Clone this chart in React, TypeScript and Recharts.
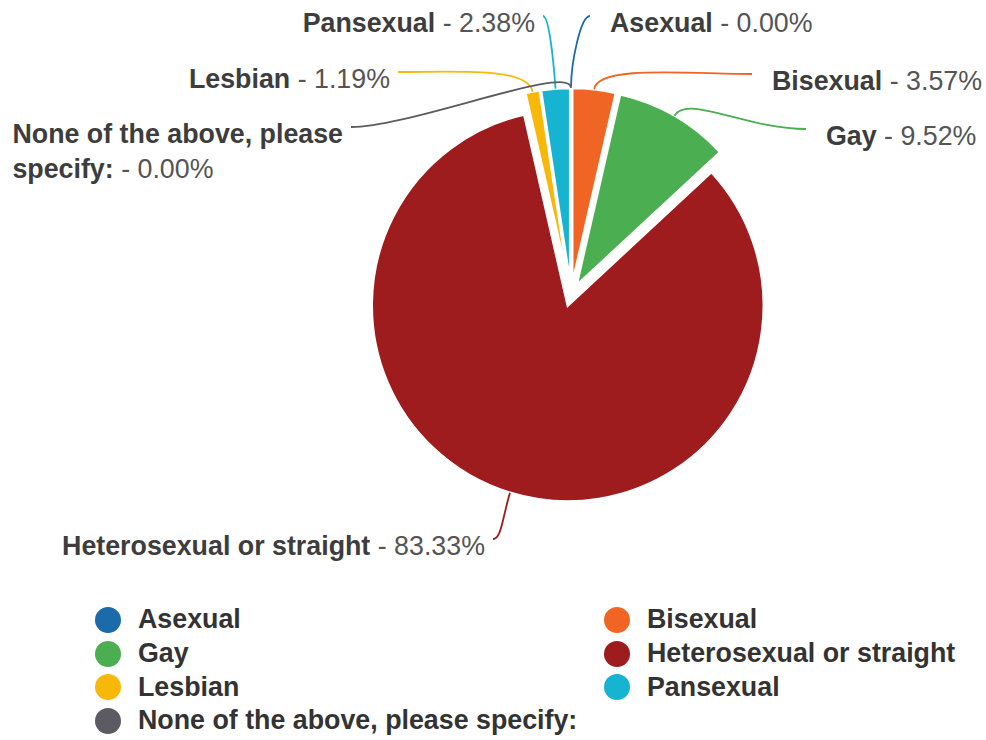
import React from "react";
import { PieChart, Pie, Cell, Sector, Legend } from "recharts";

const categories = [
    "Asexual",
    "Bisexual",
    "Gay",
    "Heterosexual or straight",
    "Lesbian",
    "Pansexual",
    "None of the above, please specify:",
];
const shares = [0, 3.57, 9.52, 83.33, 1.19, 2.38, 0];
const colors = ["#1b6aa9", "#f06523", "#4bae50", "#9e1b1e", "#f8b80a", "#17b4d2", "#5c5a62"];

// where each data label sits, relative to the pie centre
const labelSide = ["right", "right", "right", "left", "left", "left", "left"];
const labelDx = [39, 201, 255, -86, -181, -36, -228];
const labelDy = [-273, -215, -160, 250, -217, -273, -162];

const FONT = "'Liberation Sans', Arial, Helvetica, sans-serif";
const SIZE = 26.8;
const SLICE_OFFSET = 11;
const LINE_H = 35;
const RAD = Math.PI / 180;

const pieData = categories.map((name, i) => ({ name, value: shares[i] }));

let ctx: CanvasRenderingContext2D | null = null;
function textWidth(s: string, bold: boolean) {
    if (!ctx) ctx = document.createElement("canvas").getContext("2d");
    if (!ctx) return s.length * SIZE * 0.55;
    ctx.font = `${bold ? "bold " : ""}${SIZE}px ${FONT}`;
    return ctx.measureText(s).width;
}

type Line = { bold: string; normal: string };

// greedy word wrap of "name - xx.xx%" into the room left of / right of the anchor
function wrapLabel(name: string, suffix: string, maxWidth: number): Line[] {
    const sufW = textWidth(suffix, false);
    if (textWidth(name, true) + sufW <= maxWidth) return [{ bold: name, normal: suffix }];
    const words = name.split(" ");
    const lines: Line[] = [];
    let cur = "";
    words.forEach((w) => {
        const next = cur ? cur + " " + w : w;
        if (cur && textWidth(next, true) > maxWidth) {
            lines.push({ bold: cur, normal: "" });
            cur = w;
        } else {
            cur = next;
        }
    });
    if (textWidth(cur, true) + sufW <= maxWidth) {
        lines.push({ bold: cur, normal: suffix });
    } else {
        lines.push({ bold: cur, normal: "" });
        lines.push({ bold: "", normal: suffix.trim() });
    }
    return lines;
}

const renderSlice = (props: any) => {
    const { cx, cy, startAngle, endAngle, outerRadius, index } = props;
    const mid = (startAngle + endAngle) / 2;
    const ux = Math.cos(-mid * RAD);
    const uy = Math.sin(-mid * RAD);
    const color = colors[index];

    // connector from the sliced arc to the label
    const px = cx + ux * (outerRadius + SLICE_OFFSET);
    const py = cy + uy * (outerRadius + SLICE_OFFSET);
    const right = labelSide[index] === "right";
    const tx = cx + labelDx[index];
    const ty = cy + labelDy[index];
    const ex = right ? tx - 20 : tx + 8;
    const ey = ty - 6;
    const c1x = px + ux * 25;
    const c1y = py + uy * 25;
    const pull = Math.min(60, Math.abs(ex - px) * 0.5);
    const c2x = right ? ex - pull : ex + pull;

    const suffix = ` - ${shares[index].toFixed(2)}%`;
    const room = right ? 986 - tx : tx - 6;
    const lines = wrapLabel(categories[index], suffix, room);
    const widths = lines.map((l) => textWidth(l.bold, true) + textWidth(l.normal, false));
    const maxW = Math.max(...widths);
    const x0 = right ? tx : tx - maxW;

    return (
        <g key={`slice-${index}`}>
            <Sector
                cx={cx + ux * SLICE_OFFSET}
                cy={cy + uy * SLICE_OFFSET}
                innerRadius={0}
                outerRadius={outerRadius}
                startAngle={startAngle}
                endAngle={endAngle}
                fill={color}
                stroke="#ffffff"
                strokeWidth={2.5}
            />
            <path
                d={`M${px},${py} C${c1x},${c1y} ${c2x},${ey} ${ex},${ey}`}
                fill="none"
                stroke={color}
                strokeWidth={1.8}
            />
            <text x={x0} y={ty} fontFamily={FONT} fontSize={SIZE} textAnchor="start">
                {lines.map((l, j) => (
                    <tspan key={j} x={x0} y={ty + j * LINE_H + SIZE * 0.36}>
                        {l.bold && (
                            <tspan fontWeight="bold" fill="#3d3d3d">
                                {l.bold}
                            </tspan>
                        )}
                        {l.normal && <tspan fill="#555555">{l.normal.replace(/ /g, "\u00a0")}</tspan>}
                    </tspan>
                ))}
            </text>
        </g>
    );
};

const LegendGrid = () => (
    <div
        style={{
            display: "grid",
            gridTemplateColumns: "509px 1fr",
            gridAutoRows: "33.7px",
            paddingLeft: 95,
            fontFamily: FONT,
            fontSize: 26.8,
            fontWeight: "bold",
            color: "#333333",
        }}
    >
        {categories.map((name, i) => (
            <div key={name} style={{ display: "flex", alignItems: "center", whiteSpace: "nowrap" }}>
                <span
                    style={{
                        width: 26,
                        height: 26,
                        borderRadius: "50%",
                        background: colors[i],
                        marginRight: 17,
                        flex: "none",
                    }}
                />
                <span>{name}</span>
            </div>
        ))}
    </div>
);

export default function App() {
    return (
        <div style={{ position: "absolute", left: 0, top: 0, width: 986, height: 740, background: "#fff" }}>
            <PieChart width={986} height={740} margin={{ top: 0, right: 0, bottom: 0, left: 0 }}>
                <Pie
                    data={pieData}
                    dataKey="value"
                    nameKey="name"
                    cx={571}
                    cy={295}
                    outerRadius={196}
                    startAngle={90}
                    endAngle={-270}
                    stroke="none"
                    fillOpacity={0}
                    label={renderSlice}
                    labelLine={false}
                    isAnimationActive={false}
                >
                    {pieData.map((d, i) => (
                        <Cell key={d.name} fill={colors[i]} />
                    ))}
                </Pie>
                <Legend
                    content={() => <LegendGrid />}
                    wrapperStyle={{ left: 0, top: 603, bottom: "auto", width: 986, height: 140 }}
                />
            </PieChart>
        </div>
    );
}
